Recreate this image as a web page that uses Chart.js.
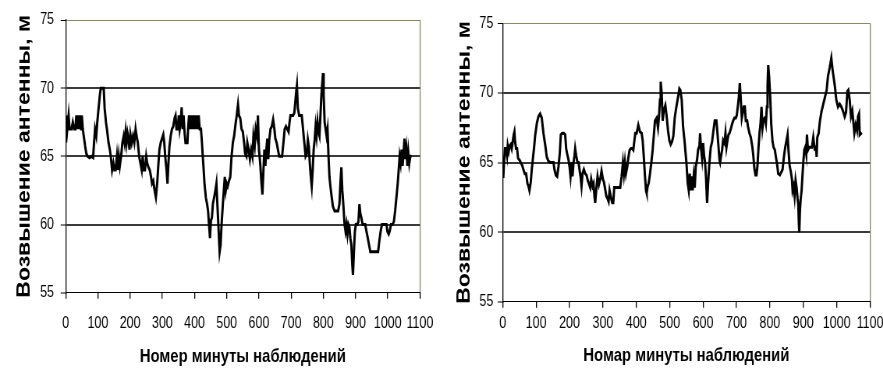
<!DOCTYPE html>
<html>
<head>
<meta charset="utf-8">
<script src="https://cdn.jsdelivr.net/npm/chart.js@4"></script>
<style>
  html, body { margin: 0; padding: 0; background: #fff; }
  body { width: 883px; height: 370px; position: relative; overflow: hidden; }
  /* the source picture is squeezed sideways (narrow Excel fonts), so each chart is drawn wider and scaled back */
  .box { position: absolute; top: 0; height: 370px; transform: scaleX(0.78); transform-origin: 0 0; }
</style>
</head>
<body>
<div class="box" style="left:0;width:564px"><canvas id="leftChart"></canvas></div>
<div class="box" style="left:440px;width:568px"><canvas id="rightChart"></canvas></div>
<script>
const SQUEEZE = 0.78;

// axis ticks
const minuteTicks = [0, 100, 200, 300, 400, 500, 600, 700, 800, 900, 1000, 1100];
const heightTicks = [55, 60, 65, 70, 75];

const yTitle = 'Возвышение антенны, м';
const leftXTitle = 'Номер минуты наблюдений';
const rightXTitle = 'Номар минуты наблюдений';

const leftMinutes = [0, 2, 5, 9, 12, 18, 22, 26, 30, 33, 36, 39, 42, 45, 48, 50, 53, 56, 60, 64, 68, 74, 80, 85, 88, 91, 95, 98, 102, 106, 109, 115, 118, 121, 125, 128, 133, 137, 140, 144, 148, 151, 155, 159, 162, 165, 168, 172, 176, 180, 183, 186, 189, 192, 195, 198, 201, 205, 209, 213, 217, 220, 224, 228, 232, 236, 239, 242, 246, 250, 253, 257, 261, 265, 268, 272, 276, 280, 284, 288, 291, 295, 299, 303, 306, 309, 313, 316, 319, 322, 326, 330, 334, 338, 341, 344, 348, 351, 354, 357, 360, 363, 366, 369, 372, 378, 380, 383, 386, 389, 392, 395, 398, 401, 404, 407, 410, 413, 416, 420, 423, 427, 431, 435, 439, 442, 445, 448, 451, 454, 457, 461, 465, 468, 471, 475, 478, 481, 484, 488, 491, 494, 497, 500, 503, 507, 511, 515, 519, 523, 527, 531, 535, 538, 542, 546, 550, 554, 557, 561, 564, 568, 572, 576, 580, 583, 587, 590, 594, 597, 600, 604, 608, 611, 614, 617, 620, 623, 626, 629, 632, 636, 640, 644, 648, 651, 655, 659, 663, 668, 672, 676, 680, 684, 688, 692, 695, 698, 702, 706, 710, 713, 716, 718, 721, 725, 729, 733, 737, 741, 745, 749, 752, 755, 758, 761, 764, 767, 770, 773, 776, 779, 782, 785, 788, 791, 794, 797, 799, 801, 804, 807, 810, 813, 816, 819, 822, 826, 830, 835, 840, 846, 850, 853, 856, 859, 862, 866, 869, 872, 875, 878, 881, 884, 887, 890, 892, 895, 898, 901, 905, 909, 912, 915, 918, 922, 926, 930, 934, 938, 942, 946, 952, 958, 964, 970, 974, 978, 982, 987, 992, 996, 999, 1003, 1006, 1010, 1015, 1019, 1023, 1027, 1031, 1034, 1037, 1040, 1043, 1046, 1049, 1052, 1055, 1058, 1061, 1064, 1067, 1070, 1074];
const leftHeights = [66, 68, 67, 68, 67, 67, 67.5, 67, 67, 68, 67, 68, 67, 68, 67, 68, 67, 66.5, 65.8, 65.2, 65, 64.9, 65, 64.9, 66, 67, 66.5, 67.5, 68.5, 69.5, 70, 70, 70, 68.5, 67.5, 67, 66, 65.5, 65, 64, 64.5, 64, 64, 65, 64, 65, 64.3, 65, 66, 66.5, 66, 66.8, 66, 66.7, 66.3, 65.5, 66.6, 66, 66.5, 66, 67, 66.5, 66, 65, 64.5, 64, 65, 64, 64, 65, 64.5, 64.2, 64, 63.5, 63, 63.2, 62.5, 62, 63, 64.5, 65.5, 66, 66.3, 66.6, 66, 65, 64, 63, 64.5, 65.7, 66.5, 67, 67.2, 67.8, 68, 67, 67, 68, 67, 67.5, 68.6, 67, 68, 66.8, 66, 66, 67, 68, 67, 68, 67, 68, 67, 68, 67, 68, 67, 68, 67, 67, 66, 64.5, 63, 62, 61.5, 61, 60, 59, 60.3, 60.5, 61.5, 62, 62.5, 63, 61.5, 59.5, 58, 58.5, 60, 61.5, 62.5, 63.5, 62.5, 63, 62.8, 63.2, 63.5, 65, 66, 66.5, 67.3, 68, 68.8, 68, 67.8, 67, 66.8, 66, 65.2, 65, 66, 65.5, 64.8, 65.5, 65, 66.5, 65.8, 67, 66.5, 68, 65.5, 64.5, 63, 62.2, 64, 65.5, 64.3, 65.5, 66.3, 64.8, 66.2, 67, 67.2, 67.7, 67, 66.3, 66, 65.5, 65, 65, 65, 66, 67, 67.2, 67, 66.8, 67.5, 68, 68, 68, 68.2, 69, 69.8, 70.2, 68.5, 68, 68, 68, 67, 66, 65, 65.2, 66.2, 65.7, 64.5, 63.5, 62.8, 64, 65.5, 66.2, 67.2, 66.5, 67.5, 66.8, 66.5, 68, 69.5, 70.5, 71.1, 69.5, 67.5, 67, 66.5, 67, 65, 63.5, 62.8, 62, 61.3, 61, 61, 61, 61.5, 63, 64.2, 62.5, 61.5, 60, 59.5, 60, 59.3, 60, 59.8, 59, 58.5, 57, 56.3, 58, 59.5, 60, 60, 60.2, 61.5, 60.8, 60.5, 60, 60, 60, 59.5, 59, 58.5, 58, 58, 58, 58, 58, 58.8, 59.5, 60, 60, 60, 60, 59.5, 59.3, 59.5, 60, 60, 60.2, 61, 62, 63, 64, 65, 64.5, 65.5, 64.3, 65.2, 66.3, 64.8, 65.5, 64.3, 65.3, 64.5, 65, 65];

// right chart
const rightMinutes = [0, 2, 4, 7, 10, 13, 15, 18, 21, 24, 27, 30, 33, 35, 37, 40, 43, 46, 50, 54, 58, 62, 66, 70, 74, 77, 80, 84, 87, 90, 94, 97, 102, 107, 112, 117, 122, 127, 132, 137, 142, 147, 152, 155, 159, 163, 167, 171, 174, 178, 183, 187, 190, 194, 197, 200, 203, 206, 209, 212, 215, 217, 220, 224, 227, 230, 233, 236, 239, 243, 247, 251, 255, 258, 262, 265, 269, 272, 275, 277, 280, 284, 288, 292, 296, 300, 303, 306, 310, 314, 317, 320, 324, 328, 331, 334, 340, 346, 352, 356, 360, 363, 366, 369, 373, 376, 380, 384, 388, 391, 394, 397, 401, 406, 411, 416, 419, 423, 426, 429, 431, 434, 437, 441, 445, 449, 453, 456, 461, 465, 468, 471, 473, 476, 479, 483, 487, 491, 495, 499, 503, 507, 511, 515, 520, 525, 529, 532, 536, 540, 545, 550, 554, 557, 560, 563, 566, 569, 572, 575, 578, 582, 585, 589, 591, 594, 597, 600, 603, 606, 609, 612, 615, 619, 623, 627, 631, 635, 640, 643, 646, 649, 651, 654, 657, 660, 664, 667, 670, 673, 676, 679, 683, 686, 690, 694, 698, 701, 704, 707, 710, 713, 716, 719, 722, 725, 728, 732, 735, 739, 743, 747, 750, 754, 757, 760, 763, 766, 769, 772, 775, 778, 781, 785, 788, 791, 793, 795, 798, 801, 804, 808, 811, 815, 818, 821, 825, 830, 834, 838, 842, 846, 850, 853, 856, 859, 863, 866, 868, 871, 874, 877, 880, 883, 885, 887, 888, 890, 892, 895, 898, 900, 903, 906, 909, 911, 914, 918, 922, 926, 930, 934, 938, 940, 942, 946, 950, 955, 960, 965, 970, 974, 979, 984, 988, 991, 995, 999, 1004, 1009, 1014, 1019, 1024, 1028, 1032, 1035, 1039, 1043, 1047, 1050, 1053, 1057, 1061, 1064, 1067, 1069, 1072, 1075];
const rightHeights = [64, 64, 65, 66, 66, 65.5, 66.2, 65.8, 66.2, 66.3, 66, 66.5, 67, 67.2, 66.5, 66, 66, 65.3, 65.2, 65, 64.8, 64.5, 64.2, 64.2, 63.5, 63.3, 63, 63.6, 64.5, 65.2, 66.1, 66.9, 67.8, 68.3, 68.5, 68.2, 67.1, 66.3, 65.4, 65.1, 65, 65, 65, 64.5, 64.1, 64, 64.7, 65.7, 67, 67.1, 67.1, 67, 66, 65.5, 65.2, 64.7, 64, 65, 64, 65, 65.5, 66, 65.5, 65, 65, 64.5, 64, 63.3, 64.2, 64.5, 64.2, 64.1, 63.7, 63.5, 63.2, 63.8, 63.3, 63.5, 62.5, 62.1, 63, 64, 63.4, 63.8, 64.4, 63.8, 63.6, 63.2, 62.6, 62.4, 62.2, 63, 62.5, 62.1, 62.1, 63.2, 63.2, 63.2, 63.2, 64, 65, 64.2, 65, 64.2, 64.7, 65.3, 65.9, 66, 66, 65.9, 66.5, 67.1, 67.1, 67.7, 67.2, 67.1, 66.6, 65.2, 64, 63, 62.8, 63.3, 63.5, 64.2, 65, 65.9, 67.1, 68, 68.2, 67.5, 68.3, 69.5, 70.8, 70, 68, 68.8, 69.1, 68.3, 67.3, 66.6, 66.3, 66.5, 66.9, 68.2, 69, 69.7, 70.3, 70.2, 69.5, 67.6, 66.4, 65, 63.5, 63, 64.2, 63, 64, 63, 64, 63.2, 64.7, 65.2, 65.9, 66.2, 67.1, 66, 65.3, 66.4, 65.5, 65, 63.8, 62.1, 63.5, 65, 66.1, 66.5, 67.3, 68, 68, 67.1, 66.2, 65.2, 65, 65.5, 65.9, 66.6, 66.4, 67.1, 66.1, 66.6, 67, 67.1, 67.4, 67.7, 68, 68.2, 68.2, 68.4, 69, 69.7, 70.7, 69.5, 68.2, 68.6, 69, 69, 68, 68, 67.5, 67.1, 66.8, 66.2, 65.6, 64.5, 64.1, 64.1, 64.8, 66.1, 67.1, 67.8, 69, 67.5, 68.1, 68.2, 67.8, 69, 70.5, 72, 71.1, 69.7, 67.8, 66.5, 66.1, 65.9, 65.4, 65, 64.2, 64.1, 64.3, 64.5, 65.4, 66.1, 66.6, 67, 65.8, 64.8, 64.3, 63.8, 63, 63.3, 62.6, 63.7, 63.2, 62.4, 62, 60.5, 60, 61.5, 62.3, 63, 64.2, 65, 65.9, 66.1, 65.6, 67, 65.9, 66.1, 66.1, 66.1, 66.8, 66, 66.1, 65.4, 66.8, 67.1, 68, 68.7, 69.2, 69.7, 70.2, 71.2, 71.8, 72.5, 71.6, 71.1, 70.4, 69.5, 69, 69.2, 69, 68.7, 68.3, 68.6, 70.1, 70.2, 69.5, 68.3, 68.7, 67.9, 67.1, 67.7, 67.3, 68.3, 68.5, 67, 67.1, 67];

const OLIVE = '#8a8a6a';
const SANS = "'Liberation Sans', Arial, sans-serif";
const tickFont = { family: SANS, size: 16 };
const yTitleFont = { family: SANS, size: 23, weight: 'bold' };
const xTitleFont = { family: SANS, size: 19, weight: 'bold' };

// box values are screen pixels; horizontal ones are divided by SQUEEZE
function makeChart(id, minutes, heights, xTitle, box) {
  const points = minutes.map((m, i) => ({ x: m, y: heights[i] }));
  return new Chart(document.getElementById(id), {
    type: 'line',
    data: {
      datasets: [{
        data: points,
        borderColor: '#000',
        borderWidth: 3,
        pointRadius: 0,
        tension: 0,
        fill: false
      }]
    },
    options: {
      responsive: true,
      maintainAspectRatio: false,
      animation: false,
      layout: { padding: { top: box.top, right: box.right / SQUEEZE, left: 0, bottom: 0 } },
      plugins: { legend: { display: false }, tooltip: { enabled: false } },
      scales: {
        x: {
          type: 'linear',
          min: minuteTicks[0],
          max: minuteTicks[minuteTicks.length - 1],
          afterBuildTicks: s => { s.ticks = minuteTicks.map(v => ({ value: v })); },
          ticks: { padding: box.xTickPad, color: '#000', font: tickFont, maxRotation: 0, autoSkip: false, callback: v => String(v) },
          grid: {
            color: c => c.tick && c.tick.value === 1100 ? OLIVE : 'transparent',
            tickColor: '#000',
            tickLength: 6,
            lineWidth: 1.3
          },
          border: { color: '#000', width: 1 },
          title: { display: true, text: xTitle, font: xTitleFont, color: '#000', padding: { top: 0, bottom: box.xTitlePad } },
          afterFit: s => { s.height = box.xHeight; s.paddingLeft = 0; s.paddingRight = 0; }
        },
        y: {
          min: heightTicks[0],
          max: heightTicks[heightTicks.length - 1],
          afterBuildTicks: s => { s.ticks = heightTicks.map(v => ({ value: v })); },
          ticks: { padding: box.yTickPad / SQUEEZE, color: '#000', font: tickFont, callback: v => String(v) },
          grid: {
            color: c => {
              if (!c.tick) return 'transparent';
              if (c.tick.value === 75) return OLIVE;
              if (c.tick.value === 55) return 'transparent';
              return '#3a3a3a';
            },
            lineWidth: c => (c.tick && c.tick.value === 75) ? 1 : 2,
            tickColor: '#000',
            tickWidth: 1,
            tickLength: 5 / SQUEEZE
          },
          border: { color: '#000', width: 1.3 },
          title: { display: true, text: yTitle, font: yTitleFont, color: '#000', padding: { top: 25 / SQUEEZE - 13.8, bottom: 0 } },
          afterFit: s => { s.width = box.yWidth / SQUEEZE; s.paddingTop = 0; s.paddingBottom = 0; }
        }
      }
    }
  });
}

makeChart('leftChart', leftMinutes, leftHeights, leftXTitle,
  { top: 20, right: 20, yWidth: 65.7, xHeight: 77.3, xTickPad: 15, yTickPad: 6.7, xTitlePad: 1.6 });
makeChart('rightChart', rightMinutes, rightHeights, rightXTitle,
  { top: 23.3, right: 13, yWidth: 62.7, xHeight: 68.3, xTickPad: 6, yTickPad: 4.4, xTitlePad: 2.6 });
</script>
</body>
</html>
